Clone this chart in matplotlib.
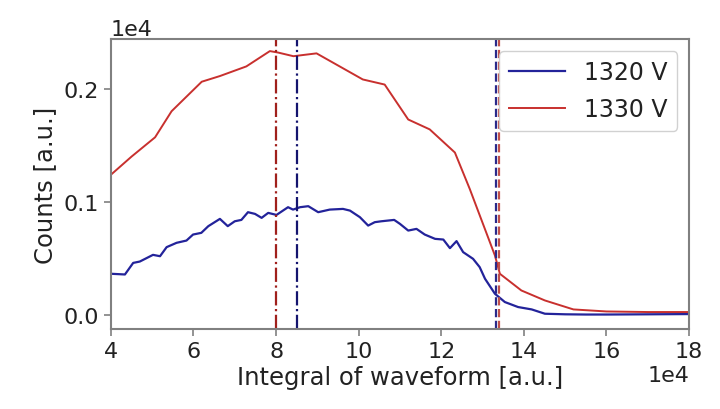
import matplotlib
matplotlib.use("Agg")
import matplotlib.pyplot as plt

# 1320 V spectrum (x in units of waveform integral, counts)
x_1320 = [40200, 43400, 45400, 47000, 50200, 51900, 53500, 55900, 58300, 59900,
          61900, 63600, 66400, 68300, 70000, 71600, 73200, 74900, 76500, 78100,
          80100, 82900, 84100, 85800, 87800, 90200, 93000, 96200, 97900, 100300,
          102300, 103900, 105500, 108600, 110000, 112000, 114000, 116000, 118500,
          120500, 122100, 123700, 125300, 127700, 129300, 130600, 133000, 135400,
          138600, 141900, 145100, 150000, 155000, 160000, 165000, 170000, 175000, 180000]
y_1320 = [367, 361, 463, 475, 534, 522, 602, 640, 660, 713,
          728, 787, 851, 787, 830, 842, 910, 895, 860, 904,
          886, 954, 933, 954, 963, 910, 933, 939, 924, 866,
          792, 822, 830, 842, 807, 748, 763, 713, 675,
          669, 593, 655, 558, 499, 426, 323, 191, 118,
          74, 53, 15, 10, 8, 8, 9, 10, 11, 12]

# 1330 V spectrum
x_1330 = [40000, 45000, 50700, 54700, 62000, 66400, 72800, 78500, 80500, 84200,
          89800, 101000, 106300, 112000, 117200, 123300, 126900, 133000, 134200,
          139400, 145100, 152000, 160000, 170000, 180000]
y_1330 = [1240, 1400, 1570, 1800, 2060, 2110, 2195, 2330, 2317, 2285,
          2310, 2080, 2035, 1727, 1640, 1436, 1115, 528, 367,
          220, 132, 53, 35, 30, 30]

labels = ["1320 V", "1330 V"]
# marker lines
dashdot_1330 = 80000
dashdot_1320 = 85000
dashed_1320 = 133300
dashed_1330 = 134000

blue = "#23239a"
red = "#c8302e"

fig = plt.figure(figsize=(7.2, 4.1), dpi=100)
ax = fig.add_axes([0.154, 0.195, 0.803, 0.707])

ax.plot(x_1320, y_1320, color=blue, lw=1.6, label=labels[0])
ax.plot(x_1330, y_1330, color=red, lw=1.4, label=labels[1])

ax.axvline(dashdot_1330, color="#a0201c", lw=1.6, ls="-.")
ax.axvline(dashdot_1320, color="#14146e", lw=1.6, ls="-.")
ax.axvline(dashed_1320, color="#2a2a8a", lw=1.6, ls="--")
ax.axvline(dashed_1330, color="#c0504a", lw=1.6, ls="--")

ax.set_xlim(40000, 180000)
ax.set_ylim(-120, 2435)
ax.set_xticks([40000, 60000, 80000, 100000, 120000, 140000, 160000, 180000])
ax.set_yticks([0, 1000, 2000])
ax.ticklabel_format(axis="both", style="sci", scilimits=(4, 4))

for s in ax.spines.values():
    s.set_color("#808080")
    s.set_linewidth(1.5)
ax.tick_params(axis="both", labelsize=16, colors="#808080", labelcolor="#222222",
               length=5, width=1.2)
ax.xaxis.get_offset_text().set_fontsize(16)
ax.yaxis.get_offset_text().set_fontsize(16)
ax.xaxis.get_offset_text().set_color("#222222")
ax.yaxis.get_offset_text().set_color("#222222")

ax.set_xlabel("Integral of waveform [a.u.]", fontsize=17.5, color="#222222", labelpad=3)
ax.set_ylabel("Counts [a.u.]", fontsize=17.5, color="#222222", labelpad=5)

leg = ax.legend(loc="upper right", fontsize=17, handlelength=2.4, labelspacing=0.55,
                framealpha=0.9)
for t in leg.get_texts():
    t.set_color("#222222")

fig.savefig("out.png", dpi=100)
